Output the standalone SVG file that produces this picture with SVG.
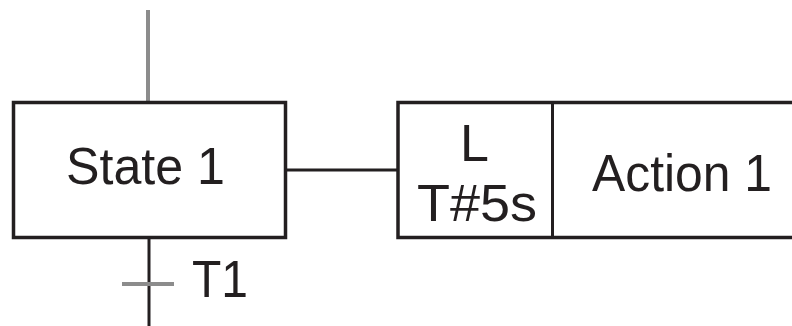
<svg xmlns="http://www.w3.org/2000/svg" width="792" height="326" viewBox="0 0 792 326">
  <style>
    .box { fill: #ffffff; stroke: #231f20; stroke-width: 3.5; }
    .wire { stroke: #231f20; stroke-width: 3; fill: none; }
    .grey { stroke: #8c8c8c; stroke-width: 4; fill: none; }
    .lbl { font-family: "Liberation Sans", Arial, sans-serif; font-size: 52px; fill: #231f20; }
  </style>
  <rect width="792" height="326" fill="#ffffff"/>

  <g id="connectors">
    <line class="grey" x1="148" y1="10" x2="148" y2="102"/>
    <line class="wire" x1="149" y1="238" x2="149" y2="326"/>
    <line class="grey" x1="122" y1="284" x2="174" y2="284" stroke-width="3.5"/>
    <line class="wire" x1="287" y1="170" x2="398" y2="170"/>
  </g>

  <g id="state1">
    <rect class="box" x="13.5" y="102.5" width="272" height="135"/>
    <text class="lbl" x="66" y="184" textLength="159" lengthAdjust="spacingAndGlyphs">State 1</text>
  </g>

  <g id="transition-t1">
    <text class="lbl" x="192" y="297" textLength="56" lengthAdjust="spacingAndGlyphs">T1</text>
  </g>

  <g id="action1">
    <rect class="box" x="398" y="102.5" width="400" height="135"/>
    <line class="wire" x1="552.5" y1="102.5" x2="552.5" y2="237.5" stroke-width="3.5"/>
    <text class="lbl" x="460" y="161">L</text>
    <text class="lbl" x="417" y="221" textLength="120" lengthAdjust="spacingAndGlyphs">T#5s</text>
    <text class="lbl" x="592" y="191" textLength="180" lengthAdjust="spacingAndGlyphs">Action 1</text>
  </g>
</svg>
